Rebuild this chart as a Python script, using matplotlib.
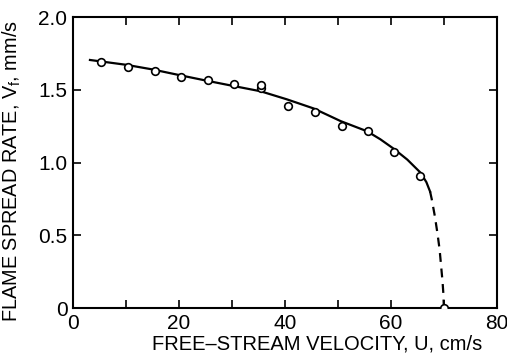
import numpy as np
import matplotlib
matplotlib.use("Agg")
import matplotlib.pyplot as plt

plt.rcParams['font.family'] = ['Liberation Sans', 'DejaVu Sans']
plt.rcParams['mathtext.fontset'] = 'custom'
plt.rcParams['mathtext.rm'] = 'Liberation Sans'
plt.rcParams['mathtext.it'] = 'Liberation Sans'

# measured points (velocity cm/s, spread rate mm/s)
u_pts = [5.2, 10.3, 15.4, 20.4, 25.4, 30.4, 35.5, 35.5, 40.6, 45.6, 50.7, 55.6, 60.6, 65.4, 70.0]
vf_pts = [1.69, 1.66, 1.63, 1.59, 1.57, 1.54, 1.51, 1.53, 1.39, 1.35, 1.25, 1.22, 1.07, 0.91, 0.0]

# fitted curve, solid part
u_fit = [3.2, 10, 15, 20.2, 25.3, 30.3, 35.4, 40.4, 45.4, 50.5, 55.5, 58.0, 60.6, 63.1, 65.6, 66.7, 67.4]
vf_fit = [1.705, 1.672, 1.64, 1.60, 1.562, 1.526, 1.49, 1.434, 1.372, 1.285, 1.215, 1.16, 1.093, 1.02, 0.93, 0.865, 0.80]

# extrapolated part, dashed
u_ext = [67.4, 67.7, 68.3, 68.8, 69.2, 69.5, 69.75, 69.9, 70.0]
vf_ext = [0.80, 0.75, 0.63, 0.51, 0.40, 0.28, 0.18, 0.10, 0.0]

fig = plt.figure(figsize=(5.07, 3.63), dpi=100)
ax = fig.add_axes([0.144, 0.1515, 0.836, 0.8015])

ax.plot(u_fit, vf_fit, color='black', lw=1.6, solid_joinstyle='round')
ax.plot(u_ext, vf_ext, color='black', lw=1.6, ls=(0, (4, 3)))
ax.plot(u_pts, vf_pts, 'o', ms=5.5, mfc='white', mec='black', mew=1.2, zorder=5)

ax.set_xlim(0, 80)
ax.set_ylim(0, 2.0)
ax.set_xticks([0, 20, 40, 60, 80])
ax.set_xticks(np.arange(0, 81, 10), minor=True)
ax.set_yticks([0, 0.5, 1.0, 1.5, 2.0])
ax.set_yticklabels(['0', '0.5', '1.0', '1.5', '2.0'])
ax.tick_params(which='both', direction='in', top=True, right=True, width=1.2)
ax.tick_params(which='major', length=6, labelsize=15, pad=4)
ax.tick_params(which='minor', length=6)
for s in ax.spines.values():
    s.set_linewidth(1.5)

ax.set_xlabel('FREE\u2013STREAM VELOCITY, U, cm/s', fontsize=14.5, labelpad=0)
ax.set_ylabel('FLAME SPREAD RATE, V$_\\mathrm{f}$, mm/s', fontsize=14.3, labelpad=1)
ax.xaxis.set_label_coords(0.577, -0.09)
ax.yaxis.set_label_coords(-0.117, 0.47)

fig.savefig('out.png', dpi=100)
